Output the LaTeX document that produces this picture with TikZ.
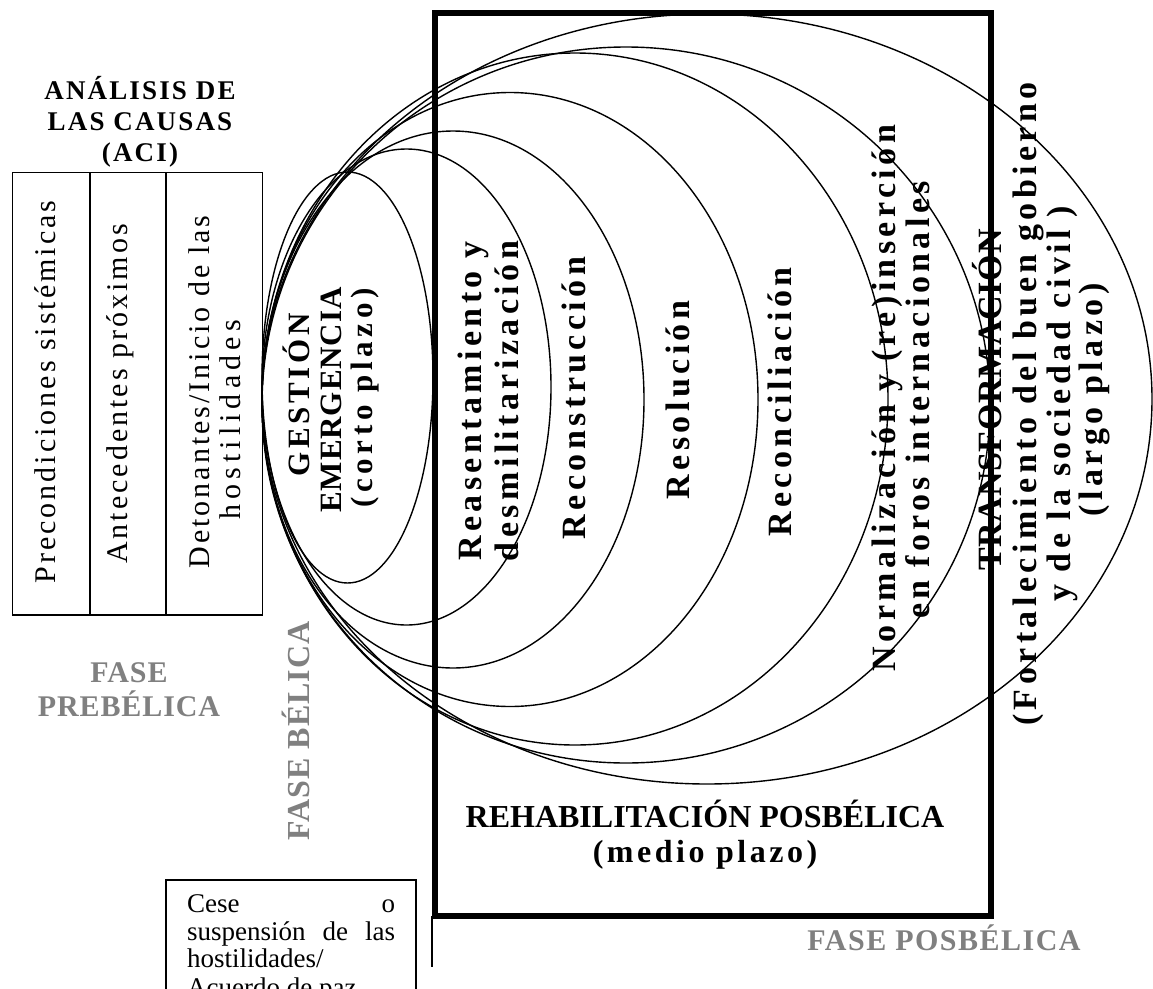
\documentclass[tikz,border=0pt]{standalone}
\usepackage{fontspec}
\setmainfont{Liberation Serif}
\definecolor{phasegray}{HTML}{808080}
\begin{document}
\begin{tikzpicture}[x=1pt,y=-1pt,
  ell/.style={draw, line width=1.4pt},
  colbox/.style={draw, line width=1.4pt, inner sep=0pt},
  lbl/.style={rotate=90, inner sep=0pt, font=\bfseries\fontsize{34}{37}\selectfont\addfontfeature{LetterSpace=#1}},
  glbl/.style={rotate=90, inner sep=0pt, font=\bfseries\fontsize{31}{34}\selectfont\addfontfeature{LetterSpace=#1}},
  coltxt/.style={rotate=90, inner sep=0pt, font=\fontsize{30}{32}\selectfont\addfontfeature{LetterSpace=#1}},
  phase/.style={text=phasegray, inner sep=0pt, align=center, font=\bfseries\fontsize{30}{34}\selectfont\addfontfeature{LetterSpace=#1}},
  cese/.style={anchor=base west, inner sep=0pt, font=\fontsize{27}{27.5}\selectfont}]
\useasboundingbox (0,0) rectangle (1153,988);
\fill[white] (0,0) rectangle (1153,988);
\begin{scope}
\clip (0,0) rectangle (1153,988);
% heading
\node[align=center, inner sep=0pt, font=\bfseries\fontsize{27}{31}\selectfont\addfontfeature{LetterSpace=8}] (head) at (140,122) {ANÁLISIS DE\\LAS CAUSAS\\(ACI)};
% columns
\node[colbox, minimum width=77.3pt, minimum height=442.3pt] (c1) at (51.35,393.85) {};
\node[colbox, minimum width=76pt, minimum height=442.3pt] (c2) at (128,393.85) {};
\node[colbox, minimum width=96.7pt, minimum height=442.3pt] (c3) at (214.35,393.85) {};
\node[coltxt=10] (t1) at (45,392) {Precondiciones sistémicas};
\node[coltxt=10] (t2) at (120,394) {Antecedentes próximos};
\node[coltxt=10] (t3a) at (199,392) {Detonantes/Inicio de las};
\node[coltxt=17] (t3b) at (230,420) {hostilidades};
% phases
\node[phase=3] (fpre) at (129,690) {FASE\\PREBÉLICA};
\node[phase=3, rotate=90, font=\bfseries\fontsize{32}{34}\selectfont\addfontfeature{LetterSpace=3}] (fbel) at (296,731) {FASE BÉLICA};
\node[phase=5, font=\bfseries\fontsize{30}{34}\selectfont\addfontfeature{LetterSpace=5}] (fpos) at (944,938) {FASE POSBÉLICA};
% ellipses
\draw[ell] (347.5,377.5) ellipse (85.5 and 205.5);
\draw[ell] (406.5,387) ellipse (144.5 and 238);
\draw[ell] (453,399.5) ellipse (191 and 268.5);
\draw[ell] (510,399.5) ellipse (248 and 307);
\draw[ell] (575,399) ellipse (313 and 346);
\draw[ell] (626,405) ellipse (364 and 358);
\draw[ell] (707,399) ellipse (445 and 385);
% big rectangle
\draw[line width=6pt] (435,13) rectangle (991,916);
\coordinate (lt) at (432,916);
\coordinate (lb) at (432,967);
\draw[line width=1.2pt] (lt) -- (lb);
% labels
\node[glbl=12] (gest1) at (296,395) {GESTIÓN};
\node[glbl=3] (gest2) at (331,400) {EMERGENCIA};
\node[glbl=15] (gest3) at (365,398) {(corto plazo)};
\node[lbl=13] (reas1) at (473,401) {Reasentamiento y};
\node[lbl=13] (reas2) at (507,401) {desmilitarización};
\node[lbl=13] (recons) at (574,398) {Reconstrucción};
\node[lbl=13] (resol) at (678,400) {Resolución};
\node[lbl=13] (recon) at (780,402) {Reconciliación};
\node[lbl=13] (norm1) at (887,398) {Normalización y (re)inserción};
\node[lbl=13] (norm2) at (918,400) {en foros internacionales};
\node[lbl=2] (trans) at (987,400) {TRANSFORMACIÓN};
\node[lbl=13] (fort1) at (1028,404) {(Fortalecimiento del buen gobierno};
\node[lbl=13] (fort2) at (1062,404) {y de la sociedad civil )};
\node[lbl=13] (fort3) at (1094,400) {(largo plazo)};
\node[align=center, inner sep=0pt, font=\bfseries\fontsize{32}{35}\selectfont] (rehab) at (705,835) {REHABILITACIÓN POSBÉLICA\\{\addfontfeature{LetterSpace=11}(medio plazo)}};
% cese box
\draw[line width=1.2pt] (166,880) rectangle (416,1010);
\node[cese] (cese1) at (187,912) {\makebox[208pt][s]{Cese o}};
\node[cese] (cese2) at (187,940) {\makebox[208pt][s]{suspensión de las}};
\node[cese] (cese3) at (187,967) {hostilidades/};
\node[cese] (cese4) at (187,996) {Acuerdo de paz};
\end{scope}
\end{tikzpicture}
\end{document}
